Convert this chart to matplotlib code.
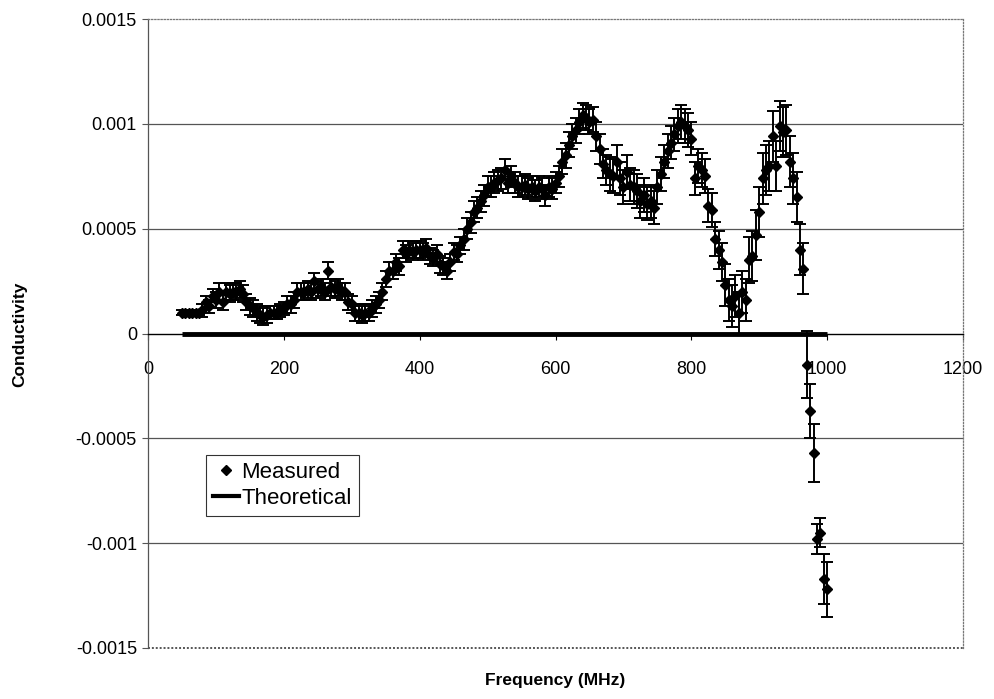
import numpy as np
import matplotlib
matplotlib.use("Agg")
import matplotlib.pyplot as plt
from matplotlib.lines import Line2D

plt.rcParams['font.family'] = ['Liberation Sans', 'DejaVu Sans']

# Measured conductivity (frequency sweep 50..1000 MHz, 5 MHz step)
measured = [
    0.00010, 0.00010, 0.00010, 0.00010, 0.00010, 0.00010,             # 50-75
    0.00011, 0.00015, 0.00013, 0.00018, 0.00016, 0.00020, 0.00015, 0.00020,  # 80-115
    0.00019, 0.00020, 0.00020, 0.00021, 0.00019, 0.00015, 0.00013, 0.00012,  # 120-155
    0.00010, 0.00009, 0.00008, 0.00009, 0.00010, 0.00010, 0.00010, 0.00011,  # 160-195
    0.00012, 0.00014, 0.00014, 0.00016, 0.00020, 0.00020, 0.00020, 0.00021,  # 200-235
    0.00020, 0.00025, 0.00021, 0.00022, 0.00020, 0.00030, 0.00022, 0.00021,  # 240-275
    0.00022, 0.00020, 0.00020, 0.00015, 0.00014, 0.00010, 0.00010, 0.00009,  # 280-315
    0.00010, 0.00010, 0.00012, 0.00014, 0.00016, 0.00020, 0.00026, 0.00030,  # 320-355
    0.00030, 0.00034, 0.00032, 0.00040, 0.00038, 0.00040, 0.00039, 0.00040,  # 360-395
    0.00040, 0.00039, 0.00041, 0.00037, 0.00036, 0.00038, 0.00033, 0.00032,  # 400-435
    0.00030, 0.00034, 0.00039, 0.00038, 0.00042, 0.00045, 0.00050, 0.00053,  # 440-475
    0.00058, 0.00060, 0.00063, 0.00066, 0.00070, 0.00070, 0.00072, 0.00073,  # 480-515
    0.00074, 0.00078, 0.00072, 0.00075, 0.00072, 0.00070, 0.00070, 0.00071,  # 520-555
    0.00069, 0.00070, 0.00068, 0.00070, 0.00069, 0.00066, 0.00070, 0.00069,  # 560-595
    0.00072, 0.00075, 0.00082, 0.00085, 0.00090, 0.00094, 0.00097, 0.00101,  # 600-635
    0.00104, 0.00103, 0.00101, 0.00102, 0.00094, 0.00088, 0.00081, 0.00078,  # 640-675
    0.00076, 0.00075, 0.00082, 0.00074, 0.00070, 0.00077, 0.00071, 0.00070,  # 680-715
    0.00068, 0.00063, 0.00066, 0.00062, 0.00063, 0.00060, 0.00070, 0.00076,  # 720-755
    0.00082, 0.00087, 0.00091, 0.00095, 0.00099, 0.00101, 0.00099, 0.00097,  # 760-795
    0.00093, 0.00074, 0.00080, 0.00078, 0.00075, 0.00061, 0.00059, 0.00045,  # 800-835
    0.00040, 0.00034, 0.00023, 0.00016, 0.00013, 0.00018, 0.00010, 0.00020,  # 840-875
    0.00016, 0.00035, 0.00037, 0.00047, 0.00058, 0.00074, 0.00078, 0.00080,  # 880-915
    0.00094, 0.00080, 0.00099, 0.00096, 0.00097, 0.00082, 0.00074, 0.00065,  # 920-955
    0.00040, 0.00031, -0.00015, -0.00037, -0.00057, -0.00098, -0.00095, -0.00117,  # 960-995
    -0.00122,                                                          # 1000
]

# error bar half-widths
errors = [
    0.00001, 0.00001, 0.00001, 0.00001, 0.00001, 0.00001,
    0.00003, 0.00003, 0.00003, 0.00003, 0.00004, 0.00004, 0.00004, 0.00004,
    0.00004, 0.00004, 0.00004, 0.00004, 0.00004, 0.00004, 0.00004, 0.00004,
    0.00004, 0.00004, 0.00004, 0.00004, 0.00003, 0.00003, 0.00003, 0.00003,
    0.00003, 0.00004, 0.00004, 0.00004, 0.00004, 0.00004, 0.00004, 0.00004,
    0.00004, 0.00004, 0.00004, 0.00004, 0.00004, 0.00004, 0.00004, 0.00004,
    0.00004, 0.00004, 0.00004, 0.00004, 0.00004, 0.00004, 0.00004, 0.00004,
    0.00004, 0.00004, 0.00004, 0.00004, 0.00004, 0.00004, 0.00004, 0.00004,
    0.00004, 0.00004, 0.00004, 0.00004, 0.00004, 0.00004, 0.00004, 0.00004,
    0.00004, 0.00004, 0.00004, 0.00004, 0.00004, 0.00004, 0.00004, 0.00004,
    0.00004, 0.00004, 0.00004, 0.00004, 0.00004, 0.00005, 0.00005, 0.00005,
    0.00005, 0.00005, 0.00005, 0.00005, 0.00005, 0.00005, 0.00005, 0.00005,
    0.00005, 0.00005, 0.00005, 0.00005, 0.00005, 0.00005, 0.00005, 0.00005,
    0.00005, 0.00005, 0.00005, 0.00005, 0.00005, 0.00005, 0.00005, 0.00005,
    0.00005, 0.00005, 0.00006, 0.00006, 0.00006, 0.00006, 0.00006, 0.00006,
    0.00006, 0.00006, 0.00006, 0.00006, 0.00007, 0.00007, 0.00007, 0.00007,
    0.00008, 0.00008, 0.00008, 0.00008, 0.00008, 0.00008, 0.00008, 0.00008,
    0.00008, 0.00008, 0.00008, 0.00008, 0.00008, 0.00008, 0.00008, 0.00008,
    0.00008, 0.00008, 0.00008, 0.00008, 0.00008, 0.00008, 0.00008, 0.00008,
    0.00008, 0.00008, 0.00008, 0.00008, 0.00008, 0.00008, 0.00008, 0.00008,
    0.00009, 0.00009, 0.00010, 0.00010, 0.00010, 0.00010, 0.00010, 0.00010,
    0.00010, 0.00011, 0.00012, 0.00012, 0.00012, 0.00012, 0.00012, 0.00012,
    0.00012, 0.00012, 0.00012, 0.00012, 0.00012, 0.00012, 0.00012, 0.00012,
    0.00012, 0.00012, 0.00016, 0.00013, 0.00014, 0.00007, 0.00007, 0.00012,
    0.00013,
]

freq = np.arange(50, 50 + 5 * len(measured), 5)
theoretical = np.zeros(len(measured))

x_ticks = [0, 200, 400, 600, 800, 1000, 1200]
y_ticks = [-0.0015, -0.001, -0.0005, 0, 0.0005, 0.001, 0.0015]
y_tick_labels = ['-0.0015', '-0.001', '-0.0005', '0', '0.0005', '0.001', '0.0015']

fig = plt.figure(figsize=(9.94, 6.99), dpi=100)
ax = fig.add_axes([148 / 994, 1 - 648 / 699, (963 - 148) / 994, (648 - 19) / 699])

ax.set_xlim(0, 1200)
ax.set_ylim(-0.0015, 0.0015)

# gridlines
for yt in y_ticks:
    if yt not in (0, 0.0015, -0.0015):
        ax.axhline(yt, color='#555555', lw=0.9, zorder=0)

# theoretical line
ax.plot(freq, theoretical, color='black', lw=3.5, zorder=2, solid_capstyle='butt')

# measured with error bars
ax.errorbar(freq, measured, yerr=errors, fmt='D', color='black', ms=5.2,
            ecolor='black', elinewidth=1.4, capsize=4, capthick=1.4, zorder=3)

# spines
ax.spines['bottom'].set_position(('data', 0))
ax.spines['bottom'].set_linewidth(1.0)
ax.spines['left'].set_color('#555555')
ax.spines['left'].set_linewidth(0.9)
for s in ('top', 'right'):
    ax.spines[s].set_linestyle((0, (1, 1.5)))
    ax.spines[s].set_color('#777777')
    ax.spines[s].set_linewidth(0.9)
ax.axhline(-0.0015, color='#555555', lw=1.4, ls=(0, (1, 1)), clip_on=False)

ax.set_xticks(x_ticks)
ax.set_xticklabels([str(t) for t in x_ticks], fontsize=13)
ax.tick_params(axis='x', direction='out', length=4, pad=16)
ax.set_yticks(y_ticks)
ax.set_yticklabels(y_tick_labels, fontsize=13)
ax.tick_params(axis='y', direction='out', length=4, pad=4, color='#555555')

fig.text(555 / 994, 1 - 680 / 699, 'Frequency (MHz)', ha='center', va='center',
         fontsize=12.5, fontweight='bold')
fig.text(20 / 994, 1 - 334 / 699, 'Conductivity', ha='center', va='center',
         rotation=90, fontsize=12.5, fontweight='bold')

handles = [
    Line2D([], [], marker='D', color='black', ls='none', ms=5),
    Line2D([], [], color='black', lw=3),
]
leg = ax.legend(handles, ['Measured', 'Theoretical'], loc='upper left',
                bbox_to_anchor=((206 - 148) / 815, 1 - (455 - 19) / 629),
                fontsize=16, frameon=True, fancybox=False, borderpad=0.3,
                handlelength=1.2, handletextpad=0.1, labelspacing=0.25,
                borderaxespad=0)
leg.get_frame().set_edgecolor('black')
leg.get_frame().set_linewidth(0.8)

fig.savefig('out.png', dpi=100)
